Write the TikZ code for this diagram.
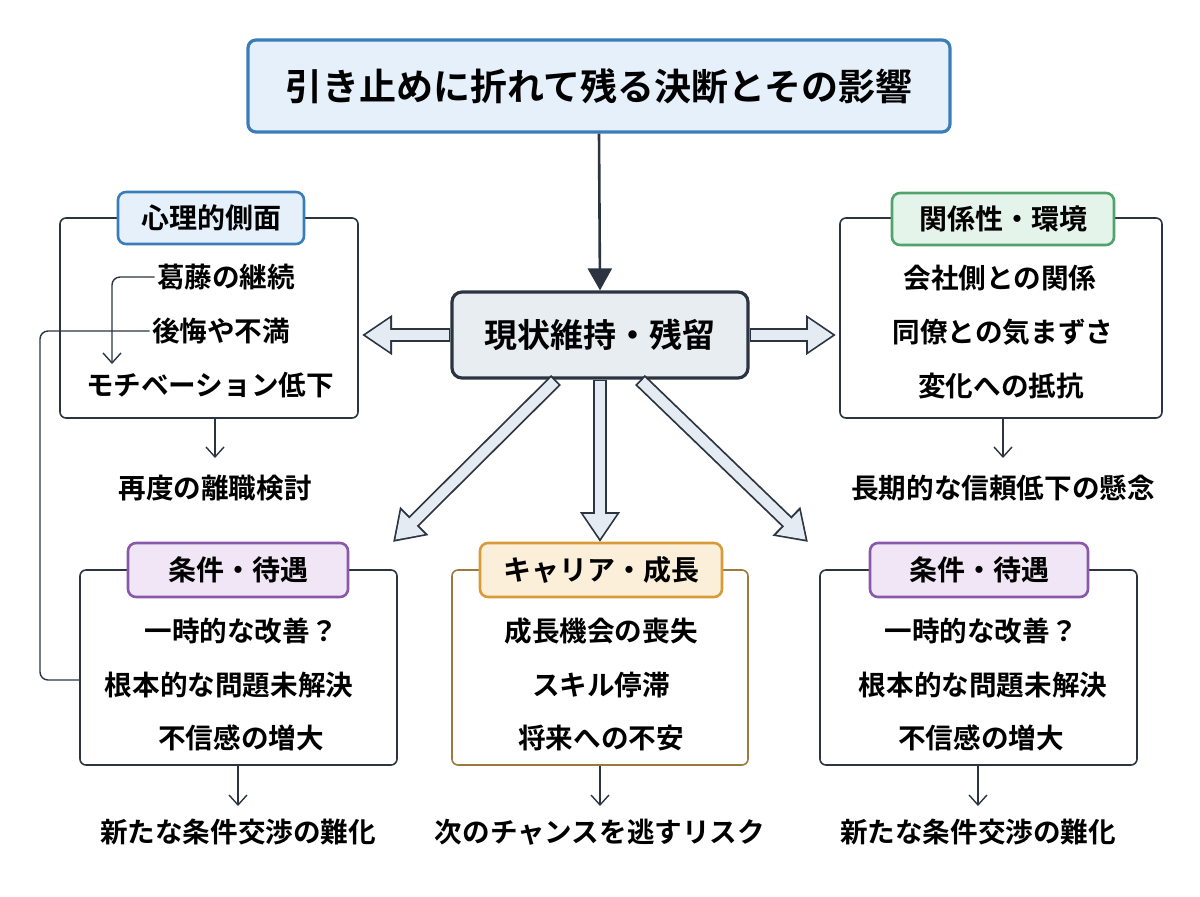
\documentclass[tikz,border=0pt]{standalone}
\usepackage{fontspec}
\setmainfont{Noto Sans CJK JP}[BoldFont={Noto Sans CJK JP Bold}]
\usetikzlibrary{positioning,arrows.meta}
\definecolor{ink}{HTML}{2B3440}
\definecolor{blueedge}{HTML}{3A7DB8}
\definecolor{bluefill}{HTML}{E6F0FA}
\definecolor{greenedge}{HTML}{4FA36B}
\definecolor{greenfill}{HTML}{E5F4EA}
\definecolor{purpleedge}{HTML}{8A58A8}
\definecolor{purplefill}{HTML}{F1E6F6}
\definecolor{orangeedge}{HTML}{D99A3A}
\definecolor{orangefill}{HTML}{FCEFD9}
\definecolor{brownedge}{HTML}{9A7A3E}
\definecolor{grayfill}{HTML}{E8EDF2}
\definecolor{hollow}{HTML}{E4EBF2}
\tikzset{
  frame/.style={rectangle, draw=ink, line width=0.8pt, rounded corners=3pt},
  header/.style={rectangle, rounded corners=4pt, line width=1.3pt, font=\bfseries\fontsize{14}{16}\selectfont, inner sep=0pt},
  item/.style={font=\bfseries\fontsize{13.8}{16}\selectfont, inner sep=1pt},
  thin/.style={draw=ink, line width=0.7pt, -{Straight Barb[length=5pt,width=9pt]}},
  bigarrow/.style={line width=7pt, draw=ink, -{Triangle[length=15pt,width=19pt]}},
  bigfill/.style={line width=5.2pt, draw=hollow, shorten >=1.6pt, shorten <=0.9pt, -{Triangle[length=12.4pt,width=15.8pt]}}
}
\newcommand{\hollowarrow}[2]{%
  \draw[bigarrow] (#1) -- (#2);
  \draw[bigfill] (#1) -- (#2);}
\begin{document}
\begin{tikzpicture}[x=0.5pt,y=-0.5pt]
        \useasboundingbox (0,0) rectangle (1200,896);

        % title and center
        \node (title) [rectangle, draw=blueedge, fill=bluefill, line width=1.6pt, rounded corners=4pt, minimum width=351pt, minimum height=46pt, font=\bfseries\fontsize{18.5}{21}\selectfont] at (599,86) {引き止めに折れて残る決断とその影響};
        \node (center) [rectangle, draw=ink, fill=grayfill, line width=1.6pt, rounded corners=5pt, minimum width=148pt, minimum height=43pt, font=\bfseries\fontsize{16.5}{19}\selectfont] at (600,335) {現状維持・残留};
        \draw[draw=ink, line width=1.3pt, -{Triangle[length=11pt,width=12pt]}] (title.south) -- (center.north);

        % frames
        \node (psyframe) [frame, minimum width=149pt, minimum height=100pt] at (209,318) {};
        \node (relframe) [frame, minimum width=161pt, minimum height=100pt] at (1001,318) {};
        \node (condframeL) [frame, minimum width=158.5pt, minimum height=97.5pt] at (238.5,667.5) {};
        \node (careerframe) [frame, draw=brownedge, minimum width=148pt, minimum height=97.5pt] at (600,667.5) {};
        \node (condframeR) [frame, minimum width=158.5pt, minimum height=97.5pt] at (978.5,667.5) {};

        % headers
        \node (psy) [header, draw=blueedge, fill=bluefill, minimum width=93pt, minimum height=26pt] at (211,218) {心理的側面};
        \node (rel) [header, draw=greenedge, fill=greenfill, minimum width=111pt, minimum height=26pt] at (1003,219) {関係性・環境};
        \node (condL) [header, draw=purpleedge, fill=purplefill, minimum width=110pt, minimum height=27pt] at (238,570) {条件・待遇};
        \node (career) [header, draw=orangeedge, fill=orangefill, minimum width=121pt, minimum height=27pt] at (601,570) {キャリア・成長};
        \node (condR) [header, draw=purpleedge, fill=purplefill, minimum width=109pt, minimum height=27pt] at (979,570) {条件・待遇};

        % items
        \node (conflict) [item] at (226,277) {葛藤の継続};
        \node (regret) [item] at (221,331) {後悔や不満};
        \node (motiv) [item] at (210,385) {モチベーション低下};
        \node (company) [item] at (1000,278) {会社側との関係};
        \node (awkward) [item] at (1003,332) {同僚との気まずさ};
        \node (resist) [item] at (1001,386) {変化への抵抗};
        \node (tempL) [item] at (241,631) {一時的な改善？};
        \node (rootL) [item] at (229,685) {根本的な問題未解決};
        \node (distrustL) [item] at (241,738) {不信感の増大};
        \node (lost) [item] at (601,631) {成長機会の喪失};
        \node (stag) [item] at (601,685) {スキル停滞};
        \node (anx) [item] at (601,738) {将来への不安};
        \node (tempR) [item] at (981,631) {一時的な改善？};
        \node (rootR) [item] at (983,685) {根本的な問題未解決};
        \node (distrustR) [item] at (981,738) {不信感の増大};

        % outcomes
        \node (reconsider) [item] at (215,488) {再度の離職検討};
        \node (trust) [item] at (1003,488) {長期的な信頼低下の懸念};
        \node (negoL) [item] at (238,832) {新たな条件交渉の難化};
        \node (chance) [item] at (600,832) {次のチャンスを逃すリスク};
        \node (negoR) [item] at (978,832) {新たな条件交渉の難化};

        \coordinate (motivtop) at (112,364);
        \coordinate (psyfoot) at (215,458);
        \coordinate (relfoot) at (1003,458);
        \coordinate (negoLtop) at (238,806);
        \coordinate (chancetop) at (600,806);
        \coordinate (negoRtop) at (978,806);

        \draw[thin, rounded corners=4pt] (conflict.west) -- (112,277) -- (motivtop);
        \draw[draw=ink, line width=0.7pt, rounded corners=4pt] (regret.west) -- (40,331) -- (40,680) -- (condframeL.west |- 0,680);
        \draw[thin] (psyframe.south -| psyfoot) -- (psyfoot);
        \draw[thin] (relframe.south -| relfoot) -- (relfoot);
        \draw[thin] (condframeL.south -| negoLtop) -- (negoLtop);
        \draw[thin] (careerframe.south) -- (chancetop);
        \draw[thin] (condframeR.south -| negoRtop) -- (negoRtop);

        % hollow arrows
        \coordinate (lefttip) at (362,335);
        \coordinate (righttip) at (836,335);
        \coordinate (swtip) at (393,542);
        \coordinate (stip) at (600,542);
        \coordinate (setip) at (808,542);
        \hollowarrow{center.west}{lefttip}
        \hollowarrow{center.east}{righttip}
        \hollowarrow{556,380}{swtip}
        \hollowarrow{center.south}{stip}
        \hollowarrow{640,380}{setip}
    \end{tikzpicture}
\end{document}
